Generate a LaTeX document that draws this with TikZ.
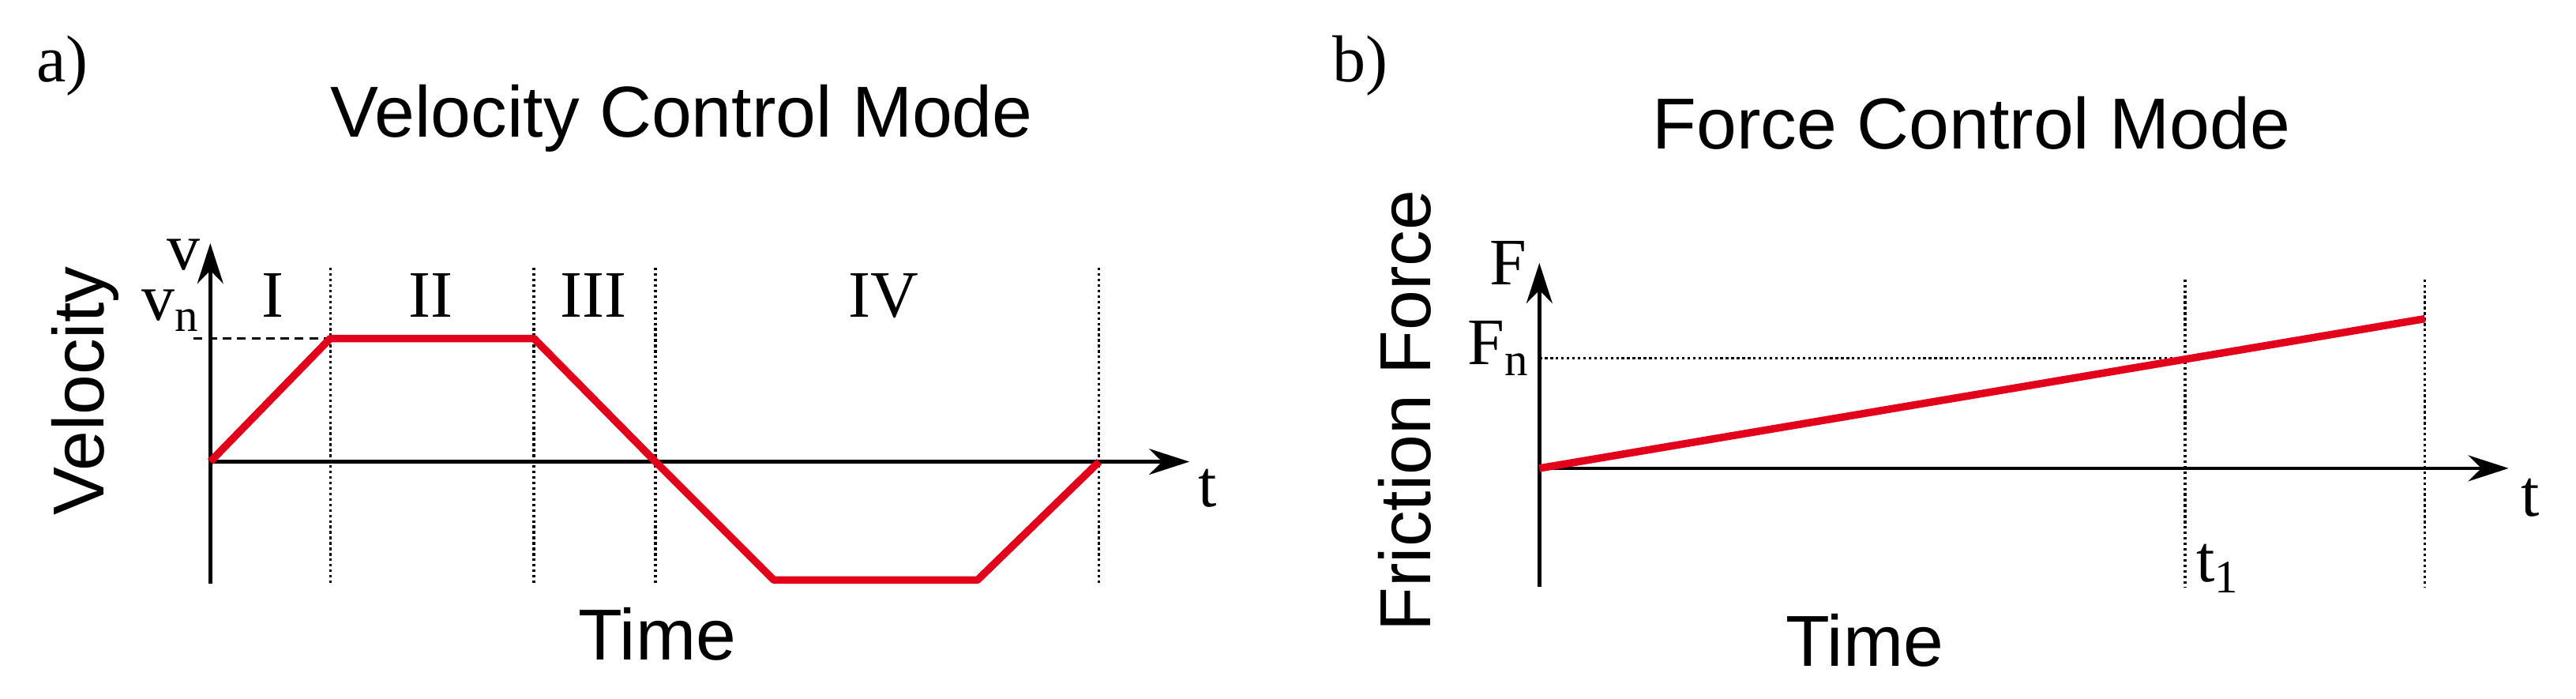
\documentclass[tikz,border=0pt]{standalone}
\usepackage{fontspec}
\setmainfont{Liberation Serif}
\newfontfamily\mysans{Liberation Sans}
\usetikzlibrary{arrows.meta}
\begin{document}
\begin{tikzpicture}[x=0.02cm,y=-0.02cm,
  ax/.style={line width=1.3pt,-{Stealth[length=14pt,width=9pt]}},
  red/.style={draw={rgb,255:red,226;green,0;blue,26},line width=2.6pt},
  dv/.style={densely dotted,line width=0.9pt},
  lab/.style={font=\fontsize{23}{27}\selectfont},
  ttl/.style={font=\mysans\fontsize{25}{30}\selectfont}]
\useasboundingbox (0,0) rectangle (1568,425);
% panel a
\node[lab] (pa) at (38,40) {a)};
\node[ttl] (ta) at (415,72) {Velocity Control Mode};
\coordinate (o1) at (128,281);
\coordinate (ya) at (128,148);
\coordinate (yb) at (128,355);
\coordinate (xa) at (724,281);
\draw[ax] (yb) -- (ya);
\draw[ax] (o1) -- (xa);
\foreach \x/\n in {201/d1,325/d2,399/d3,669/d4}{
  \coordinate (\n t) at (\x,163); \coordinate (\n b) at (\x,355);
  \draw[dv] (\n t) -- (\n b);}
\coordinate (vn0) at (118,206);
\coordinate (p1) at (201,206);
\coordinate (p2) at (325,206);
\coordinate (p3) at (399,281);
\coordinate (p4) at (471,353);
\coordinate (p5) at (595,353);
\coordinate (p6) at (669,281);
\draw[densely dashed,line width=0.9pt] (vn0) -- (p1);
\draw[red,line join=round] (o1) -- (p1) -- (p2) -- (p3) -- (p4) -- (p5) -- (p6);
\node[lab] (v) at (112,155) {v};
\node[lab] (vn) at (104,189) {v\textsubscript{n}};
\node[lab] (r1) at (166,180) {I};
\node[lab] (r2) at (262,180) {II};
\node[lab] (r3) at (361,180) {III};
\node[lab] (r4) at (538,180) {IV};
\node[lab] (t) at (735,297) {t};
\node[ttl,rotate=90] (vel) at (52,238) {Velocity};
\node[ttl] (tia) at (400,386) {Time};
% panel b
\node[lab] (pb) at (828,40) {b)};
\node[ttl] (tb) at (1200,75) {Force Control Mode};
\coordinate (o2) at (937,285);
\coordinate (yc) at (937,160);
\coordinate (yd) at (937,357);
\coordinate (xb) at (1527,285);
\draw[ax] (yd) -- (yc);
\draw[ax] (o2) -- (xb);
\foreach \x/\n in {1330/e1,1476/e2}{
  \coordinate (\n t) at (\x,170); \coordinate (\n b) at (\x,357);
  \draw[dv] (\n t) -- (\n b);}
\coordinate (fn0) at (937,218);
\coordinate (fn1) at (1330,218);
\draw[dv] (fn0) -- (fn1);
\coordinate (q1) at (1476,194);
\draw[red] (o2) -- (q1);
\node[lab] (F) at (918,160) {F};
\node[lab] (Fn) at (912,212) {F\textsubscript{n}};
\node[lab] (t2) at (1540,303) {t};
\node[lab] (t1) at (1350,346) {t\textsubscript{1}};
\node[ttl,rotate=90] (ff) at (855,250) {Friction Force};
\node[ttl] (tib) at (1135,390) {Time};
\end{tikzpicture}
\end{document}
